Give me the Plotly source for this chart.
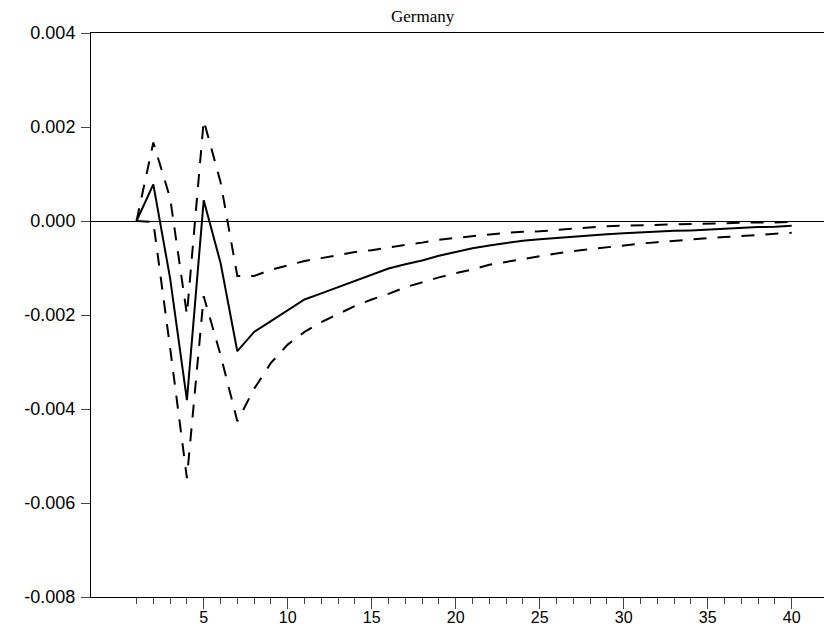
import plotly.graph_objects as go

periods = list(range(1, 41))

response = [0.0, 0.00078, -0.00122, -0.00381, 0.00044, -0.00089, -0.00277, -0.00236,
            -0.00213, -0.0019, -0.00167, -0.00154, -0.00141, -0.00127, -0.00114, -0.00101,
            -0.00092, -0.00084, -0.00074, -0.00066, -0.00058, -0.00052, -0.00047, -0.00042,
            -0.00039, -0.00036, -0.00033, -0.0003, -0.00028, -0.00026, -0.00024, -0.00023,
            -0.00021, -0.0002, -0.00018, -0.00016, -0.00015, -0.00013, -0.00012, -0.0001]

upper_band = [0.0, 0.00167, 0.00049, -0.00199, 0.00214, 0.00083, -0.00117, -0.00117,
              -0.00104, -0.00094, -0.00085, -0.00079, -0.00072, -0.00066, -0.00062, -0.00056,
              -0.00051, -0.00046, -0.0004, -0.00036, -0.00032, -0.00028, -0.00025, -0.00023,
              -0.00022, -0.00019, -0.00016, -0.00013, -0.00011, -0.0001, -0.00009, -0.00008,
              -0.00007, -0.00006, -0.00005, -0.00004, -0.00004, -0.00003, -0.00003, -0.00002]

lower_band = [0.0, -0.00002, -0.0027, -0.00547, -0.0016, -0.00285, -0.00426, -0.00357,
              -0.00302, -0.00263, -0.00236, -0.00215, -0.00198, -0.00181, -0.00167, -0.00155,
              -0.00141, -0.0013, -0.0012, -0.00111, -0.00103, -0.00093, -0.00087, -0.0008,
              -0.00074, -0.00069, -0.00064, -0.0006, -0.00055, -0.00051, -0.00048, -0.00045,
              -0.00042, -0.00039, -0.00036, -0.00034, -0.00032, -0.0003, -0.00028, -0.00025]

x_major = [5, 10, 15, 20, 25, 30, 35, 40]
y_ticks = [0.004, 0.002, 0.0, -0.002, -0.004, -0.006, -0.008]
y_labels = ["0.004", "0.002", "0.000", "-0.002", "-0.004", "-0.006", "-0.008"]
title_text = "Germany"

# page body has an 8px default margin; size the figure to fit inside the window
W, H = 824, 624
ML, MR, MT, MB = 83, 1, 25, 35
plot_w = W - ML - MR
plot_h = H - MT - MB

fig = go.Figure()
dash = "13px,11px"
fig.add_trace(go.Scatter(x=periods, y=upper_band, mode="lines",
                         line=dict(color="black", width=2, dash=dash)))
fig.add_trace(go.Scatter(x=periods, y=lower_band, mode="lines",
                         line=dict(color="black", width=2, dash=dash)))
fig.add_trace(go.Scatter(x=periods, y=response, mode="lines",
                         line=dict(color="black", width=2)))

fig.update_layout(
    width=W, height=H,
    margin=dict(l=ML, r=MR, t=MT, b=MB),
    paper_bgcolor="white", plot_bgcolor="white",
    showlegend=False,
    font=dict(family="Liberation Sans, Arial, sans-serif", size=16, color="black"),
    annotations=[dict(text=title_text,
                      x=(423 - 8 - ML) / plot_w, xref="paper", xanchor="center",
                      y=(H - MB - (17 - 8)) / plot_h, yref="paper", yanchor="middle",
                      showarrow=False,
                      font=dict(family="Liberation Serif, Times New Roman, serif",
                                size=17, color="black"))],
)

fig.update_xaxes(
    range=[-1.71, 42.34],
    tickmode="array", tickvals=x_major, ticktext=[str(v) for v in x_major],
    ticks="outside", ticklen=11, tickwidth=1, tickcolor="#444",
    showline=True, linecolor="black", linewidth=1, mirror=True,
    showgrid=False, zeroline=False,
    tickfont=dict(size=16), ticklabelstandoff=-5,
    minor=dict(tickmode="array", tickvals=periods, ticks="outside", ticklen=6,
               tickwidth=1, tickcolor="#444", showgrid=False),
)
fig.update_yaxes(
    range=[-0.008, 0.004],
    tickmode="array", tickvals=y_ticks, ticktext=y_labels,
    ticks="outside", ticklen=9, tickwidth=1, tickcolor="#444",
    showline=True, linecolor="black", linewidth=1,
    showgrid=False, zeroline=True, zerolinecolor="black", zerolinewidth=1,
    tickfont=dict(size=18), ticklabelstandoff=2,
)

fig.write_html("out.html")
